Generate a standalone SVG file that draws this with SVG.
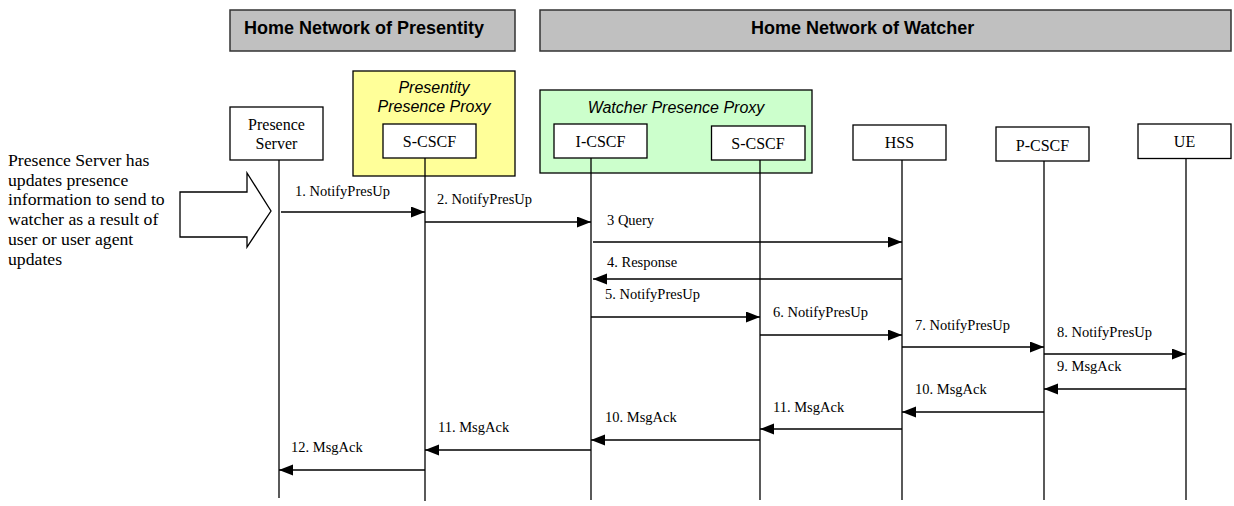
<svg xmlns="http://www.w3.org/2000/svg" width="1234" height="506" viewBox="0 0 1234 506">
<style>
.hdr{fill:#c0c0c0;stroke:#333;stroke-width:1.5}
.hdrt{font-family:"Liberation Sans",Arial,sans-serif;font-weight:bold;font-size:18px;fill:#000}
.box{fill:#fff;stroke:#000;stroke-width:1.3}
.nt{font-family:"Liberation Serif","Times New Roman",serif;font-size:16px;fill:#000;text-anchor:middle}
.grp{font-family:"Liberation Sans",Arial,sans-serif;font-style:italic;font-size:16px;fill:#000;text-anchor:middle}
.life{stroke:#000;stroke-width:1.3;fill:none}
.msg{stroke:#000;stroke-width:1.3;fill:none;marker-end:url(#ah)}
.ml{font-family:"Liberation Serif","Times New Roman",serif;font-size:14.5px;fill:#000}
.note{font-family:"Liberation Serif","Times New Roman",serif;font-size:17.7px;fill:#000}
</style>
<defs>
<marker id="ah" markerUnits="userSpaceOnUse" markerWidth="15" markerHeight="12" refX="14" refY="5.5" orient="auto">
<path d="M0,0 L14,5.5 L0,11 z" fill="#000"/>
</marker>
</defs>
<g id="header-presentity">
<rect class="hdr" x="230" y="10" width="285" height="41"/>
<text class="hdrt" x="244" y="34">Home Network of Presentity</text>
</g>
<g id="header-watcher">
<rect class="hdr" x="540" y="10" width="691" height="41"/>
<text class="hdrt" x="751" y="34">Home Network of Watcher</text>
</g>
<g id="presentity-proxy">
<rect x="353" y="71" width="162" height="105" fill="#ffff99" stroke="#000" stroke-width="1.3"/>
<text class="grp" x="434" y="93">Presentity</text>
<text class="grp" x="434" y="112">Presence Proxy</text>
</g>
<g id="watcher-proxy">
<rect x="540" y="90" width="272" height="83" fill="#ccffcc" stroke="#000" stroke-width="1.3"/>
<text class="grp" x="676" y="113">Watcher Presence Proxy</text>
</g>
<g id="note">
<text class="note" x="8" y="166">Presence Server has</text>
<text class="note" x="8" y="185.7">updates presence</text>
<text class="note" x="8" y="205.4">information to send to</text>
<text class="note" x="8" y="225.1">watcher as a result of</text>
<text class="note" x="8" y="244.8">user or user agent</text>
<text class="note" x="8" y="264.5">updates</text>
<polygon points="180,192 247,192 247,173 271,211 247,247 247,237 180,237" fill="#fff" stroke="#000" stroke-width="1.3"/>
</g>
<g id="presence-server">
<rect class="box" x="230" y="107" width="93" height="53"/>
<text class="nt" x="276.5" y="130">Presence</text>
<text class="nt" x="276.5" y="149">Server</text>
<line class="life" x1="279" y1="160" x2="279" y2="498"/>
</g>
<g id="s-cscf-p">
<rect class="box" x="383" y="124" width="93" height="34"/>
<text class="nt" x="429.5" y="147">S-CSCF</text>
<line class="life" x1="425" y1="158" x2="425" y2="501"/>
</g>
<g id="i-cscf">
<rect class="box" x="554" y="124" width="93" height="34"/>
<text class="nt" x="600.5" y="147">I-CSCF</text>
<line class="life" x1="591" y1="158" x2="591" y2="500"/>
</g>
<g id="s-cscf-w">
<rect class="box" x="711.5" y="126" width="93.5" height="34"/>
<text class="nt" x="758" y="148.5">S-CSCF</text>
<line class="life" x1="760" y1="160" x2="760" y2="500"/>
</g>
<g id="hss">
<rect class="box" x="853" y="125" width="93" height="35"/>
<text class="nt" x="899.5" y="148">HSS</text>
<line class="life" x1="902" y1="160" x2="902" y2="500"/>
</g>
<g id="p-cscf">
<rect class="box" x="996" y="127" width="93" height="34"/>
<text class="nt" x="1042.5" y="151">P-CSCF</text>
<line class="life" x1="1044" y1="161" x2="1044" y2="500"/>
</g>
<g id="ue">
<rect class="box" x="1138" y="124" width="93" height="34.5"/>
<text class="nt" x="1184.5" y="147">UE</text>
<line class="life" x1="1186" y1="158.5" x2="1186" y2="500"/>
</g>
<g id="connectors">
<line class="msg" x1="281" y1="212" x2="425" y2="212"/>
<text class="ml" x="295" y="196">1. NotifyPresUp</text>
<line class="msg" x1="425" y1="222" x2="591" y2="222"/>
<text class="ml" x="437" y="204">2. NotifyPresUp</text>
<line class="msg" x1="593" y1="242" x2="902" y2="242"/>
<text class="ml" x="607" y="225">3 Query</text>
<line class="msg" x1="902" y1="279" x2="593" y2="279"/>
<text class="ml" x="607" y="267">4. Response</text>
<line class="msg" x1="591" y1="317" x2="760" y2="317"/>
<text class="ml" x="605" y="299">5. NotifyPresUp</text>
<line class="msg" x1="760" y1="335" x2="902" y2="335"/>
<text class="ml" x="773" y="317">6. NotifyPresUp</text>
<line class="msg" x1="902" y1="347" x2="1044" y2="347"/>
<text class="ml" x="915" y="329.5">7. NotifyPresUp</text>
<line class="msg" x1="1044" y1="354" x2="1186" y2="354"/>
<text class="ml" x="1057" y="337">8. NotifyPresUp</text>
<line class="msg" x1="1186" y1="389" x2="1044" y2="389"/>
<text class="ml" x="1057" y="371">9. MsgAck</text>
<line class="msg" x1="1044" y1="412" x2="902" y2="412"/>
<text class="ml" x="915" y="394">10. MsgAck</text>
<line class="msg" x1="902" y1="429" x2="760" y2="429"/>
<text class="ml" x="773" y="412">11. MsgAck</text>
<line class="msg" x1="760" y1="440" x2="591" y2="440"/>
<text class="ml" x="605" y="422">10. MsgAck</text>
<line class="msg" x1="591" y1="450" x2="425" y2="450"/>
<text class="ml" x="438" y="432">11. MsgAck</text>
<line class="msg" x1="425" y1="470" x2="279" y2="470"/>
<text class="ml" x="291" y="452">12. MsgAck</text>
</g>
</svg>
